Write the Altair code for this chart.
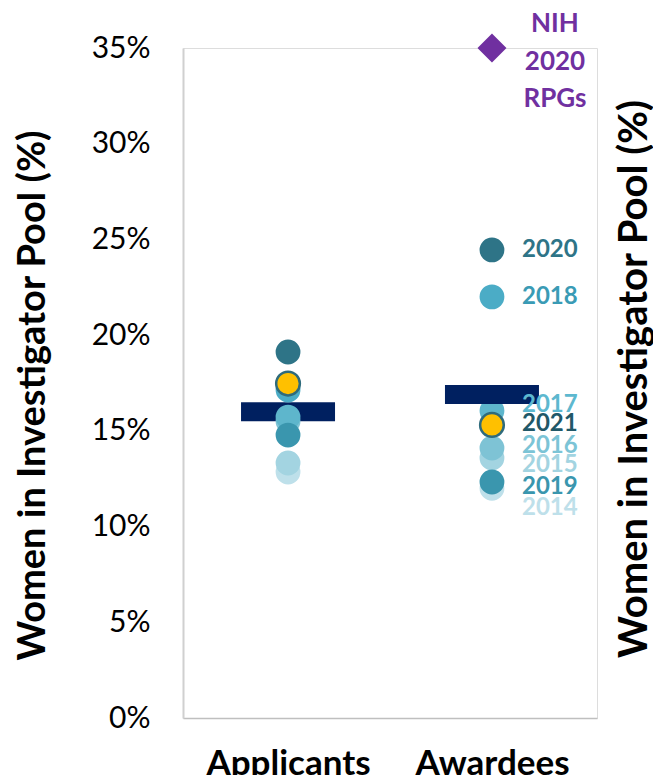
import altair as alt
import pandas as pd

groups = ["Applicants", "Awardees"]
years = ["2014", "2015", "2016", "2017", "2018", "2019", "2020", "2021"]
applicants_pct = [12.85, 13.32, 15.5, 15.72, 17.13, 14.78, 19.12, 17.47]
awardees_pct = [12.0, 13.58, 14.1, 16.05, 22.0, 12.33, 24.45, 15.31]
awardee_label_pct = [10.97, 13.22, 14.21, 16.35, 22.0, 12.07, 24.45, 15.36]
dot_colors = ["#BEE0EA", "#A3D4E1", "#7EC3D5", "#5EB6CC", "#4BACC6", "#3A96AE", "#2E7487", "#FFC000"]
label_colors = ["#BEE0EA", "#A3D4E1", "#7CC4D6", "#5DB8CF", "#3A9BB5", "#3A96AE", "#2E7487", "#215868"]
mean_pct = [16.0, 16.9]
nih_group = "Awardees"
nih_pct = 35.0
nih_label = "NIH\n2020\nRPGs"
y_title = "Women in Investigator Pool (%)"
y_ticks = [0, 5, 10, 15, 20, 25, 30, 35]

FONT = "Lato"

rows = []
for g, vals in zip(groups, [applicants_pct, awardees_pct]):
    for yr, v, c in zip(years, vals, dot_colors):
        rows.append({"group": g, "year": yr, "value": v / 100, "color": c})
dots = pd.DataFrame(rows)

labels = pd.DataFrame({
    "group": [groups[1]] * len(years),
    "year": years,
    "value": [v / 100 for v in awardee_label_pct],
    "color": label_colors,
})
means = pd.DataFrame({"group": groups, "value": [v / 100 for v in mean_pct]})
nih = pd.DataFrame({"group": [nih_group], "value": [nih_pct / 100], "label": [nih_label]})
rtitle = pd.DataFrame({"t": [y_title]})

x_enc = alt.X(
    "group:N",
    scale=alt.Scale(domain=groups, type="point", padding=0.515),
    axis=alt.Axis(
        title=None, labelAngle=0, labelFont=FONT, labelFontSize=35, labelFontWeight="bold",
        labelColor="#000000", labelBaseline="alphabetic", labelPadding=56, ticks=False,
        domainColor="#BFBFBF", domainWidth=1.5,
    ),
)
y_enc = alt.Y(
    "value:Q",
    scale=alt.Scale(domain=[0, 0.35], nice=False, zero=True),
    axis=alt.Axis(
        title=y_title, values=[t / 100 for t in y_ticks], format=".0%", grid=False, ticks=False,
        labelFont=FONT, labelFontSize=30, labelColor="#000000", labelPadding=33,
        domainColor="#D0D0D0", domainWidth=2,
        titleFont=FONT, titleFontSize=38, titleFontWeight="bold", titleColor="#000000",
        titleAngle=270, titleX=-150, titleY=347, titleAlign="center", titleBaseline="middle",
    ),
)

bar_app = alt.Chart(means).transform_filter(alt.datum.group == groups[0]).mark_tick(
    size=94, thickness=19, color="#002060", opacity=1
).encode(x=x_enc, y=y_enc)
bar_awd = alt.Chart(means).transform_filter(alt.datum.group == groups[1]).mark_tick(
    size=94, thickness=19, color="#002060", opacity=1
).encode(x=x_enc, y=y_enc)

circ = alt.Chart(dots).transform_filter(alt.datum.year != "2021").mark_point(
    filled=True, size=616, opacity=1, shape="circle"
).encode(x=x_enc, y=y_enc, color=alt.Color("color:N", scale=None), order=alt.Order("year:O"))

circ21 = alt.Chart(dots).transform_filter(alt.datum.year == "2021").mark_point(
    filled=True, size=560, opacity=1, shape="circle", stroke="#2F6B7C", strokeWidth=2.5
).encode(x=x_enc, y=y_enc, color=alt.Color("color:N", scale=None))

lab = alt.Chart(labels).mark_text(
    align="left", baseline="middle", dx=30, font=FONT, fontSize=24, fontWeight="bold"
).encode(x=x_enc, y=y_enc, text="year:N", color=alt.Color("color:N", scale=None))

diamond = alt.Chart(nih).mark_point(
    shape="diamond", filled=True, size=841, color="#7030A0", opacity=1
).encode(x=x_enc, y=y_enc)
nih_text = alt.Chart(nih).mark_text(
    align="center", baseline="middle", dx=63, dy=-24, lineBreak="\n", lineHeight=37.5,
    font=FONT, fontSize=26, fontWeight="bold", color="#7030A0"
).encode(x=x_enc, y=y_enc, text="label:N")

right_title = alt.Chart(rtitle).mark_text(
    angle=270, align="center", baseline="middle", font=FONT, fontSize=40,
    fontWeight="bold", color="#000000"
).encode(text="t:N", x=alt.value(452), y=alt.value(331))

chart = alt.layer(
    bar_app, circ, circ21, bar_awd, lab, diamond, nih_text, right_title
).properties(
    width=414, height=670,
    padding={"left": 175, "top": 40, "right": 56, "bottom": 57},
    autosize=alt.AutoSizeParams(type="none"),
).configure_view(stroke=None).configure(background="white")

chart.save("out.html", embed_options={"renderer": "svg", "actions": False})
